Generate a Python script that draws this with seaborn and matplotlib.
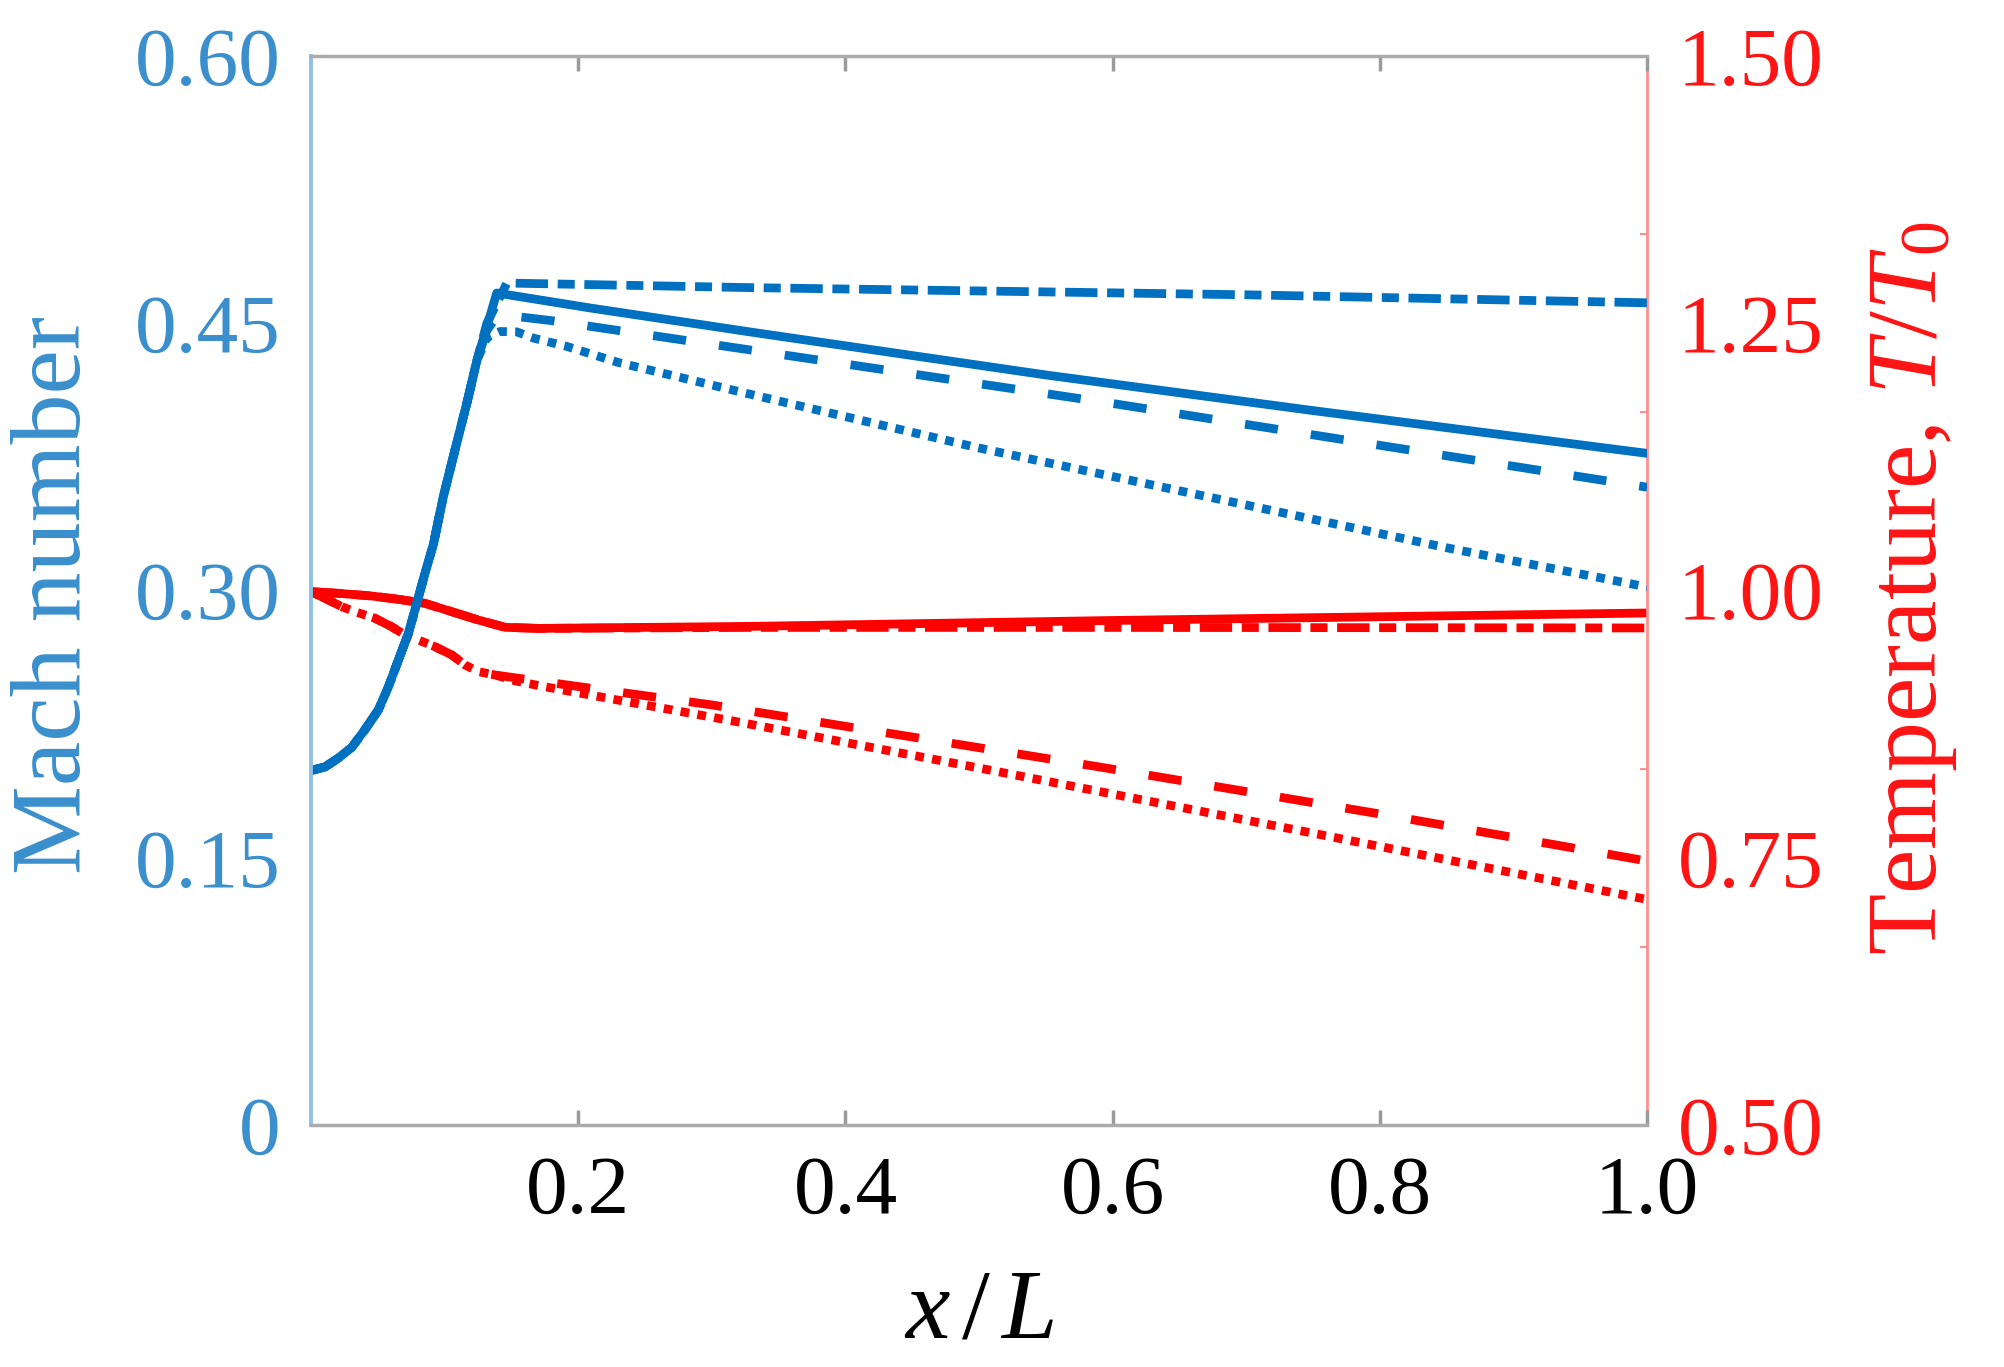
# ------------------------------------------
# Mach number and temperature along the duct
# plot.py
# ------------------------------------------

import numpy as np
import pandas as pd
import matplotlib
matplotlib.use("Agg")
import matplotlib.pyplot as plt
import seaborn as sns

# ---------- DATA ----------

# Mach number: all four cases share the contraction part
x_mach_rise = [0.0, 0.0105, 0.0205, 0.0305, 0.0404, 0.0504, 0.0579, 0.0654,
               0.0729, 0.0792, 0.0854, 0.0916, 0.0991, 0.1091, 0.1166, 0.1241]
mach_rise = [0.199, 0.201, 0.206, 0.212, 0.222, 0.233, 0.246, 0.261,
             0.276, 0.293, 0.310, 0.326, 0.353, 0.383, 0.405, 0.429]

x_mach_solid = [0.1316, 0.139, 0.209, 0.33, 0.55, 0.75, 1.0]
mach_solid = [0.448, 0.467, 0.4586, 0.445, 0.421, 0.401, 0.377]

x_mach_dashed = [0.1316, 0.14, 0.18, 0.32, 0.6, 1.0]
mach_dashed = [0.446, 0.455, 0.4515, 0.436, 0.405, 0.358]

x_mach_dotted = [0.1316, 0.1416, 0.154, 0.1665, 0.1915, 0.23, 0.324, 0.5,
                 0.7, 0.85, 1.0]
mach_dotted = [0.442, 0.4454, 0.4452, 0.4417, 0.437, 0.428, 0.411, 0.380,
               0.348, 0.324, 0.302]

x_mach_dashdot = [0.1316, 0.1466, 0.33, 0.7, 1.0]
mach_dashdot = [0.450, 0.4726, 0.470, 0.466, 0.4615]

# Temperature T/T0
x_temp_flat = [0.0, 0.0205, 0.0454, 0.0654, 0.0854, 0.1054, 0.1253]
temp_flat = [0.999, 0.9974, 0.9949, 0.9918, 0.988, 0.9802, 0.9724]

x_temp_solid = [0.1453, 0.1703, 0.33, 0.6, 1.0]
temp_solid = [0.9656, 0.9646, 0.9665, 0.972, 0.979]

x_temp_dashdot = [0.1453, 0.1703, 0.33, 0.6, 1.0]
temp_dashdot = [0.9656, 0.9646, 0.9655, 0.9655, 0.965]

x_temp_drop = [0.0, 0.013, 0.023, 0.033, 0.048, 0.0604, 0.0704, 0.0804,
               0.0929, 0.1054, 0.1154, 0.1253, 0.1378]
temp_drop = [0.999, 0.9911, 0.9849, 0.9802, 0.974, 0.9661, 0.9584, 0.9537,
             0.9474, 0.9397, 0.9303, 0.9241, 0.921]

x_temp_dashed = [0.155, 0.3, 0.59, 0.8, 1.0]
temp_dashed = [0.918, 0.893, 0.835, 0.791, 0.747]

x_temp_dotted = [0.1528, 0.1728, 0.32, 0.5, 0.75, 1.0]
temp_dotted = [0.9155, 0.9105, 0.877, 0.834, 0.773, 0.711]

x_ticks = [0.2, 0.4, 0.6, 0.8, 1.0]
x_ticklabels = ["0.2", "0.4", "0.6", "0.8", "1.0"]
mach_ticks = [0.0, 0.15, 0.30, 0.45, 0.60]
mach_ticklabels = ["0", "0.15", "0.30", "0.45", "0.60"]
temp_ticks = [0.50, 0.75, 1.00, 1.25, 1.50]
temp_ticklabels = ["0.50", "0.75", "1.00", "1.25", "1.50"]
temp_minor_ticks = [0.6667, 0.8333, 1.0, 1.1667, 1.3333]

# ---------- BUILD LONG TABLES ----------

def case_frame(name, xs, ys, col):
    return pd.DataFrame({"x": xs, col: ys, "case": name})

mach_df = pd.concat([
    case_frame("case 1", x_mach_rise + x_mach_solid, mach_rise + mach_solid, "mach"),
    case_frame("case 2", x_mach_rise + x_mach_dashed, mach_rise + mach_dashed, "mach"),
    case_frame("case 3", x_mach_rise + x_mach_dotted, mach_rise + mach_dotted, "mach"),
    case_frame("case 4", x_mach_rise + x_mach_dashdot, mach_rise + mach_dashdot, "mach"),
], ignore_index=True)

temp_df = pd.concat([
    case_frame("case 1", x_temp_flat + x_temp_solid, temp_flat + temp_solid, "temp"),
    case_frame("case 2", x_temp_drop + x_temp_dashed, temp_drop + temp_dashed, "temp"),
    case_frame("case 3", x_temp_drop + x_temp_dotted, temp_drop + temp_dotted, "temp"),
    case_frame("case 4", x_temp_flat + x_temp_dashdot, temp_flat + temp_dashdot, "temp"),
], ignore_index=True)

# line styles in units of line width
case_dashes = {
    "case 1": "",
    "case 2": (3.8, 3.8),
    "case 3": (1.0, 0.95),
    "case 4": (3.7, 1.1, 1.95, 1.1),
}

# ---------- STYLE ----------

sns.set_style("white")
plt.rcParams["font.family"] = ["Liberation Serif", "DejaVu Serif"]
plt.rcParams["mathtext.fontset"] = "custom"
plt.rcParams["mathtext.rm"] = "Liberation Serif"
plt.rcParams["mathtext.it"] = "Liberation Serif:italic"

BLUE = "#0070C0"
RED = "#FF0000"
BLUE_TEXT = "#3A8FCC"
RED_TEXT = "#FF1414"
LW = 6.3

fig = plt.figure(figsize=(20.04, 13.67), dpi=100)
ax = fig.add_axes([0.1552, 0.1770, 0.6667, 0.7820])
ax2 = ax.twinx()

# temperature on the right axis
sns.lineplot(data=temp_df, x="x", y="temp", style="case", dashes=case_dashes,
             color=RED, linewidth=LW, legend=False, errorbar=None, ax=ax2)

# Mach number on the left axis (drawn on top)
sns.lineplot(data=mach_df, x="x", y="mach", style="case", dashes=case_dashes,
             color=BLUE, linewidth=LW, legend=False, errorbar=None, ax=ax)

ax.set_zorder(ax2.get_zorder() + 1)
ax.patch.set_visible(False)

# ---------- AXES ----------

ax.set_xlim(0, 1.0)
ax.set_ylim(0, 0.6)
ax2.set_ylim(0.5, 1.5)

ax.set_xlabel("")
ax.set_ylabel("")
ax2.set_ylabel("")

ax.set_xticks(x_ticks)
ax.set_xticklabels(x_ticklabels)
ax.tick_params(axis="x", direction="in", length=11, width=2.5, color="#9A9A9A",
               top=True, bottom=True, pad=22, labelsize=60, labelcolor="black")

ax.set_yticks(mach_ticks)
ax.set_yticklabels(mach_ticklabels)
ax.tick_params(axis="y", length=0, pad=22, labelsize=60, labelcolor=BLUE_TEXT)

ax2.set_yticks(temp_ticks)
ax2.set_yticklabels(temp_ticklabels)
ax2.set_yticks(temp_minor_ticks, minor=True)
ax2.tick_params(axis="y", which="major", length=0, pad=22, labelsize=60,
                labelcolor=RED_TEXT)
ax2.tick_params(axis="y", which="minor", direction="in", length=5, width=1.5,
                color="#FF8F8F")

for side in ["top", "bottom"]:
    ax.spines[side].set_color("#ABABAB")
    ax.spines[side].set_linewidth(2.5)
ax.spines["left"].set_color("#8EC1E3")
ax.spines["left"].set_linewidth(2.8)
ax.spines["right"].set_visible(False)

for side in ["top", "bottom", "left"]:
    ax2.spines[side].set_visible(False)
ax2.spines["right"].set_color("#FF8F8F")
ax2.spines["right"].set_linewidth(2.0)

# ---------- AXIS TITLES ----------

fig.text(0.028, 0.5647, "Mach number", rotation=90, ha="center", va="center",
         fontsize=72, color=BLUE_TEXT)
fig.text(0.955, 0.570, r"Temperature, $T/T_0$", rotation=90, ha="center",
         va="center", fontsize=72, color=RED_TEXT)
fig.text(0.4885, 0.0219, r"$x\,/\,L$", ha="center", va="baseline", fontsize=72,
         color="black")

fig.savefig("out.png", dpi=100, facecolor="white")
